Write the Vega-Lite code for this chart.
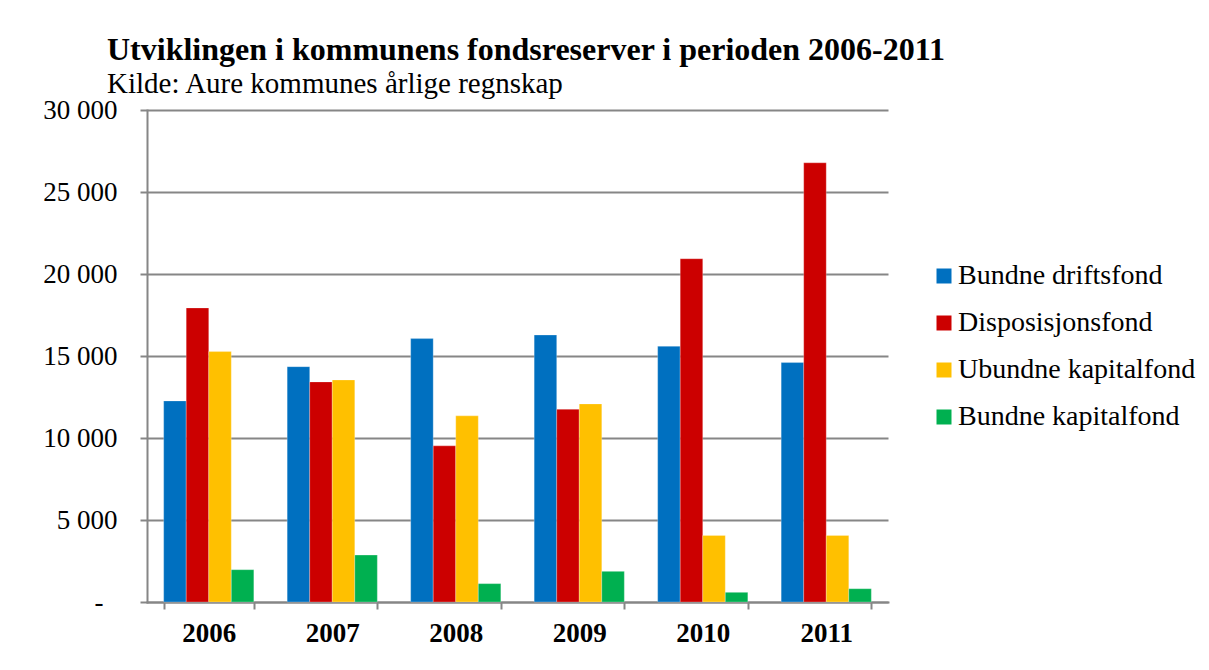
{
  "$schema": "https://vega.github.io/schema/vega-lite/v6.json",
  "autosize": {"type": "none"},
  "width": 741,
  "height": 492,
  "padding": {"left": 147, "top": 110, "right": 321, "bottom": 68},
  "background": "white",
  "title": {
    "text": "Utviklingen i kommunens fondsreserver i perioden 2006-2011",
    "subtitle": "Kilde: Aure kommunes årlige regnskap",
    "anchor": "start",
    "frame": "group",
    "dx": -40,
    "dy": 10,
    "offset": 6,
    "font": "Liberation Serif",
    "fontSize": 32,
    "fontWeight": "bold",
    "color": "black",
    "subtitleFont": "Liberation Serif",
    "subtitleFontSize": 29,
    "subtitleColor": "black",
    "subtitlePadding": 3
  },
  "data": {
    "values": [
      {"year": "2006", "fond": "Bundne driftsfond", "value": 12260},
      {"year": "2006", "fond": "Disposisjonsfond", "value": 17930},
      {"year": "2006", "fond": "Ubundne kapitalfond", "value": 15270},
      {"year": "2006", "fond": "Bundne kapitalfond", "value": 1970},
      {"year": "2007", "fond": "Bundne driftsfond", "value": 14350},
      {"year": "2007", "fond": "Disposisjonsfond", "value": 13420},
      {"year": "2007", "fond": "Ubundne kapitalfond", "value": 13540},
      {"year": "2007", "fond": "Bundne kapitalfond", "value": 2860},
      {"year": "2008", "fond": "Bundne driftsfond", "value": 16060},
      {"year": "2008", "fond": "Disposisjonsfond", "value": 9520},
      {"year": "2008", "fond": "Ubundne kapitalfond", "value": 11350},
      {"year": "2008", "fond": "Bundne kapitalfond", "value": 1120},
      {"year": "2009", "fond": "Bundne driftsfond", "value": 16280},
      {"year": "2009", "fond": "Disposisjonsfond", "value": 11750},
      {"year": "2009", "fond": "Ubundne kapitalfond", "value": 12080},
      {"year": "2009", "fond": "Bundne kapitalfond", "value": 1870},
      {"year": "2010", "fond": "Bundne driftsfond", "value": 15590},
      {"year": "2010", "fond": "Disposisjonsfond", "value": 20930},
      {"year": "2010", "fond": "Ubundne kapitalfond", "value": 4060},
      {"year": "2010", "fond": "Bundne kapitalfond", "value": 590},
      {"year": "2011", "fond": "Bundne driftsfond", "value": 14600},
      {"year": "2011", "fond": "Disposisjonsfond", "value": 26780},
      {"year": "2011", "fond": "Ubundne kapitalfond", "value": 4060},
      {"year": "2011", "fond": "Bundne kapitalfond", "value": 810}
    ]
  },
  "mark": {"type": "bar", "stroke": "white", "strokeOpacity": 0.5, "strokeWidth": 0.5},
  "encoding": {
    "x": {
      "field": "year",
      "type": "nominal",
      "title": null,
      "scale": {"paddingInner": 0.27, "paddingOuter": 0.135},
      "axis": {
        "labelAngle": 0,
        "labelFont": "Liberation Serif",
        "labelFontSize": 27,
        "labelFontWeight": "bold",
        "labelColor": "black",
        "labelPadding": 11,
        "tickBand": "extent",
        "tickSize": 7,
        "tickColor": "#868686",
        "tickWidth": 2,
        "domainColor": "#868686",
        "domainWidth": 2,
        "grid": false
      }
    },
    "xOffset": {
      "field": "fond",
      "type": "nominal",
      "sort": ["Bundne driftsfond", "Disposisjonsfond", "Ubundne kapitalfond", "Bundne kapitalfond"],
      "scale": {"paddingInner": 0, "paddingOuter": 0}
    },
    "y": {
      "field": "value",
      "type": "quantitative",
      "title": null,
      "scale": {"domain": [0, 30000], "nice": false},
      "axis": {
        "values": [0, 5000, 10000, 15000, 20000, 25000, 30000],
        "labelExpr": "datum.value == 0 ? '-' : replace(format(datum.value, ','), ',', ' ')",
        "labelFont": "Liberation Serif",
        "labelFontSize": 27,
        "labelColor": "black",
        "labelPadding": {"condition": {"test": "datum.value == 0", "value": 37}, "value": 23},
        "tickSize": 7,
        "tickColor": "#868686",
        "tickWidth": 2,
        "domainColor": "#868686",
        "domainWidth": 2,
        "grid": true,
        "gridColor": "#868686",
        "gridWidth": 2
      }
    },
    "color": {
      "field": "fond",
      "type": "nominal",
      "title": null,
      "scale": {
        "domain": ["Bundne driftsfond", "Disposisjonsfond", "Ubundne kapitalfond", "Bundne kapitalfond"],
        "range": ["#0070C0", "#CC0000", "#FFC000", "#00B050"]
      },
      "legend": {
        "orient": "none",
        "legendX": 783,
        "legendY": 152,
        "symbolType": "square",
        "symbolSize": 225,
        "symbolStrokeWidth": 0,
        "symbolOpacity": 1,
        "labelFont": "Liberation Serif",
        "labelFontSize": 28,
        "labelColor": "black",
        "labelOffset": 0,
        "labelLimit": 400,
        "rowPadding": 19,
        "padding": 0
      }
    }
  },
  "config": {
    "view": {"stroke": null},
    "axis": {"domainCap": "square"}
  }
}
